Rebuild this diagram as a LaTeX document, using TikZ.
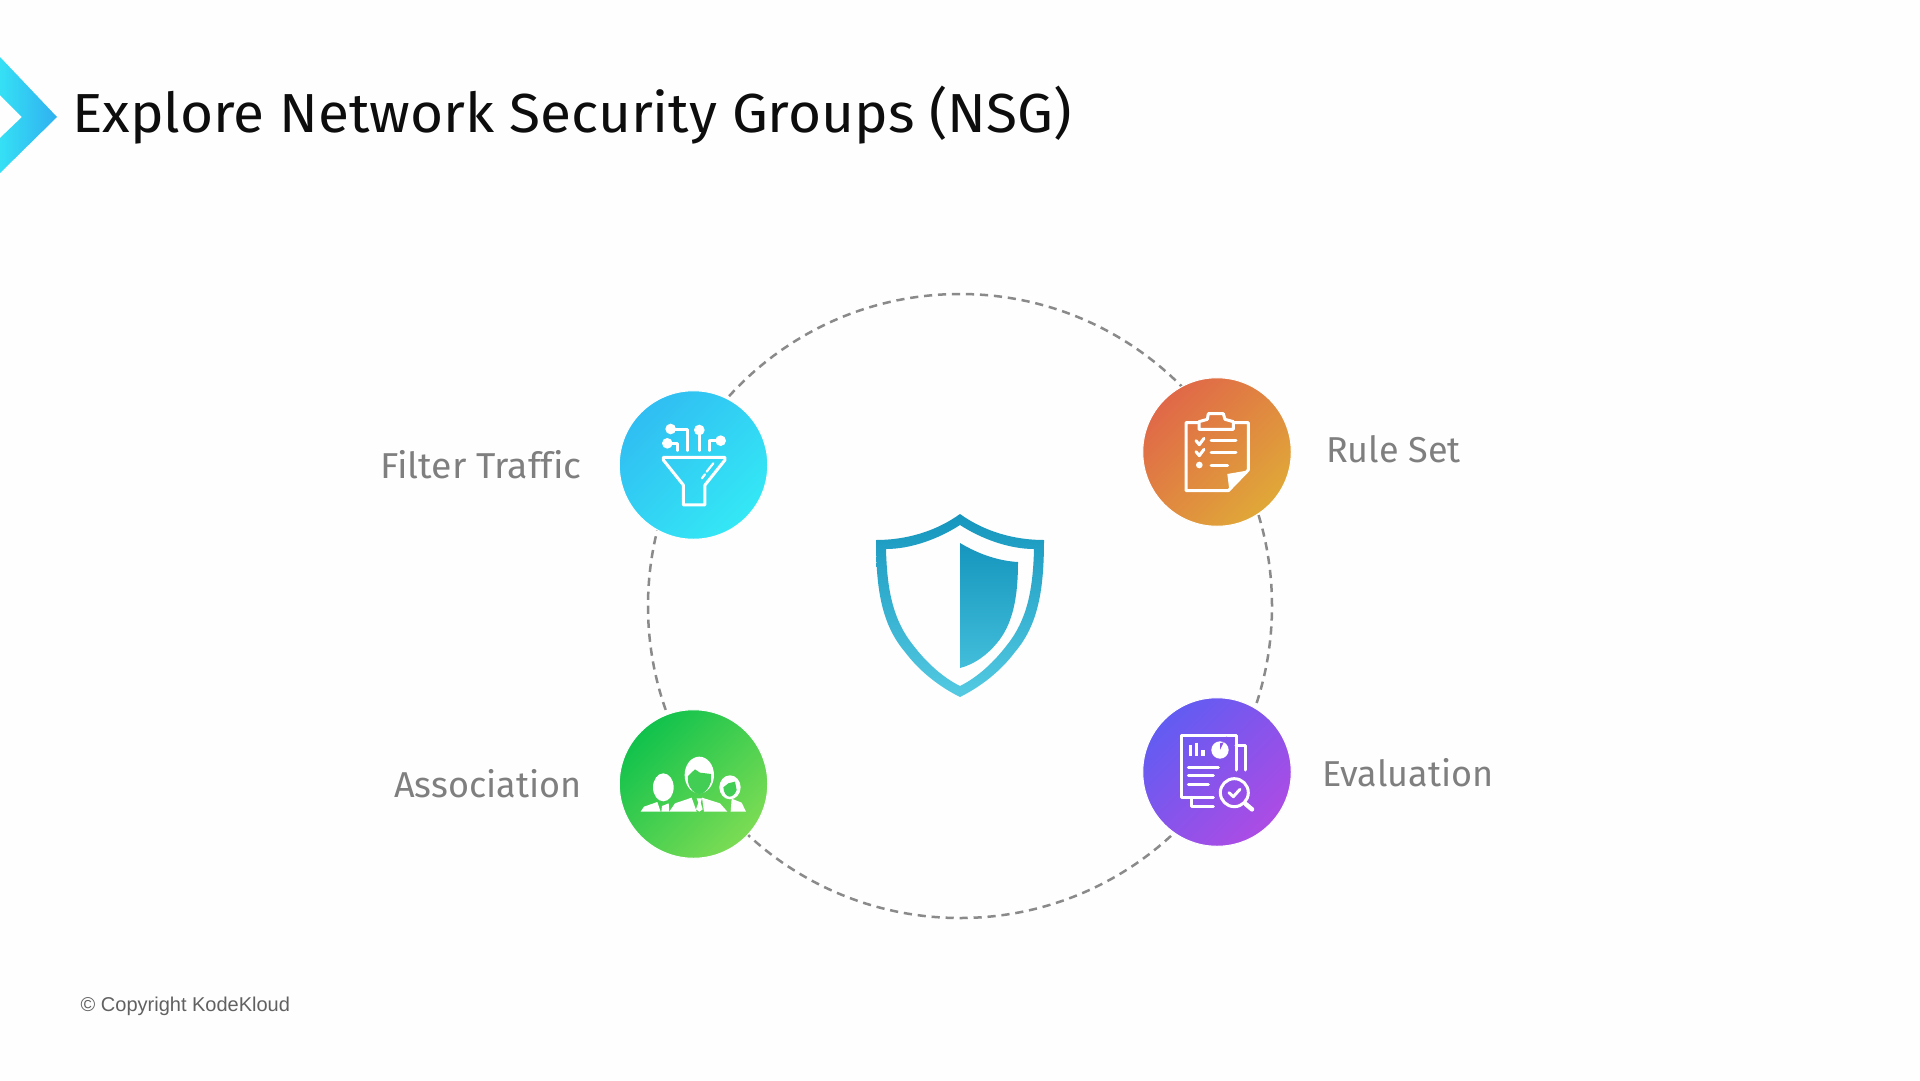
\documentclass[tikz,border=0pt]{standalone}
\usepackage{fontspec}
\setmainfont[Ligatures=NoCommon]{Fira Sans}
\newfontfamily\titlefont[FakeStretch=1.032]{Fira Sans}
\newfontfamily\widelabel[FakeStretch=1.04,Ligatures=NoCommon]{Fira Sans}
\newfontfamily\arialfont{Liberation Sans}
\definecolor{bgc}{HTML}{FEFEFE}
\definecolor{ringc}{HTML}{8A8A8A}
\definecolor{labelc}{HTML}{7F7F7F}
\definecolor{facec}{RGB}{66,206,84}
\definecolor{piec}{RGB}{140,84,234}
\definecolor{chevl}{RGB}{53,224,245}
\definecolor{chevr}{RGB}{48,176,240}
\definecolor{shtop}{RGB}{22,150,190}
\definecolor{shmid}{RGB}{18,158,196}
\definecolor{shbot}{RGB}{84,202,226}
\definecolor{shbotb}{RGB}{66,190,218}
\definecolor{fa}{RGB}{48,190,242}
\definecolor{fb}{RGB}{52,232,245}
\definecolor{ra}{RGB}{224,104,72}
\definecolor{rb}{RGB}{224,168,56}
\definecolor{aa}{RGB}{16,194,76}
\definecolor{ab}{RGB}{124,220,84}
\definecolor{ea}{RGB}{98,92,242}
\definecolor{eb}{RGB}{172,76,228}
\tikzset{
  badge/.style={circle,minimum size=148.5pt,inner sep=0pt,draw=white,line width=1pt},
  lab/.style={text=labelc,font=\fontsize{36}{40}\selectfont,inner sep=0pt},
  icon/.style={draw=white,line width=3pt,line join=round,line cap=round},
  zoomed/.style={x=0.3333pt,y=-0.3333pt}
}
\begin{document}
\begin{tikzpicture}[x=1pt,y=-1pt]
\useasboundingbox (0,0) rectangle (1920,1080);
\fill[bgc] (0,0) rectangle (1920,1080);
% chevron
\shade[left color=chevl,right color=chevr]
  (0,57) -- (57,117) -- (0,173) -- (0,138) -- (22,117) -- (0,95) -- cycle;
\node[anchor=base west,inner sep=0pt,text=black!95,font=\titlefont\fontsize{55}{60}\selectfont] (title) at (72,132) {Explore Network Security Groups (NSG)};
% ring
\node[circle,draw=ringc,line width=2.5pt,dash pattern=on 8.2pt off 5.8pt,minimum size=624pt,inner sep=0pt] (ring) at (960,606) {};
% shield
\shade[top color=shtop,middle color=shmid,bottom color=shbot,even odd rule]
  (960,514) .. controls (935,532) and (905,540) .. (876,540)
  .. controls (876,590) and (882,625) .. (905,652) .. controls (920,672) and (940,687) .. (960,697)
  .. controls (980,687) and (1000,672) .. (1015,652) .. controls (1038,625) and (1044,590) .. (1044,540)
  .. controls (1015,540) and (985,532) .. (960,514) -- cycle
  (960,525) .. controls (940,538) and (912,549) .. (886,549)
  .. controls (887,590) and (893,620) .. (913,645) .. controls (926,662) and (942,677) .. (960,686)
  .. controls (978,677) and (994,662) .. (1007,645) .. controls (1027,620) and (1033,590) .. (1034,549)
  .. controls (1008,549) and (980,538) .. (960,525) -- cycle;
\shade[top color=shtop,middle color=shmid,bottom color=shbotb]
  (960,543) .. controls (980,555) and (1000,561) .. (1018,562)
  .. controls (1018,600) and (1012,625) .. (997,643) .. controls (987,655) and (975,664) .. (960,668) -- cycle;
% badges
\node[badge,left color=fa,right color=fb,shading angle=45] (filter) at (693.5,465) {};
\node[badge,left color=ra,right color=rb,shading angle=45] (rule) at (1217,452) {};
\node[badge,left color=aa,right color=ab,shading angle=45] (assoc) at (693.5,784) {};
\node[badge,left color=ea,right color=eb,shading angle=45] (evalu) at (1217,772) {};
% labels
\node[lab,anchor=base east,font=\widelabel\fontsize{36}{40}\selectfont] (lfilter) at (582,478) {Filter Traffic};
\node[lab,anchor=base west] (lrule) at (1326,462) {Rule Set};
\node[lab,anchor=base east] (lassoc) at (581.5,797) {Association};
\node[lab,anchor=base west] (leval) at (1322,786) {Evaluation};
\node[anchor=base west,inner sep=0pt,text=black!62,font=\arialfont\fontsize{20}{24}\selectfont] (copy) at (80.5,1011) {© Copyright KodeKloud};
% filter icon
\begin{scope}[shift={(600,380)},zoomed]
\draw[icon] (190,232) -- (375,232) -- (375,240) -- (315,315) -- (315,375) -- (250,375) -- (250,315) -- (190,240) -- cycle;
\draw[icon,line width=2.2pt] (340,250) -- (320,275) (315,283) -- (306,295);
\draw[icon] (225,147) -- (262,147) -- (262,212) (298,150) -- (298,212) (350,182) -- (328,182) -- (328,212) (215,190) -- (233,190) -- (233,212);
\fill[white] (212,147) circle (16) (298,150) circle (16) (362,182) circle (16) (202,190) circle (16);
\end{scope}
% clipboard icon
\begin{scope}[shift={(1130,370)},zoomed]
\draw[icon] (207,158) -- (168,158) -- (168,362) -- (295,362) -- (355,300) -- (355,158) -- (310,158);
\draw[icon] (207,178) -- (207,155) -- (232,148) -- (235,131) -- (280,131) -- (285,148) -- (310,155) -- (310,178) -- cycle;
\fill[white] (292,312) -- (350,302) -- (298,360) -- cycle;
\draw[icon] (198,212) -- (208,224) -- (222,205) (198,245) -- (208,257) -- (222,238);
\draw[icon] (243,212) -- (318,212) (243,248) -- (318,248) (243,285) -- (293,285);
\fill[white] (208,285) circle (10);
\end{scope}
% people icon
\begin{scope}[shift={(600,700)},zoomed]
\fill[white] (190,262) ellipse (31 and 42);
\fill[white] (122,335) -- (132,320) -- (172,306) -- (182,335) -- cycle (208,335) -- (206,310) -- (186,318) -- (184,335) -- cycle;
\fill[white] (298,225) ellipse (44 and 55);
\fill[facec] (264,228) -- (285,208) -- (300,218) -- (333,222) -- (333,245) .. controls (325,270) and (310,282) .. (298,282) .. controls (285,282) and (268,268) .. (264,245) -- cycle;
\fill[white] (208,335) -- (225,310) -- (275,293) -- (290,335) -- cycle (306,293) -- (360,310) -- (382,335) -- (312,335) -- cycle;
\fill[white] (290,295) -- (306,295) -- (302,308) -- (308,328) -- (298,335) -- (288,328) -- (295,308) -- cycle;
\fill[white] (390,262) ellipse (32 and 36);
\fill[facec] (370,262) -- (385,250) -- (405,245) -- (410,270) .. controls (405,285) and (395,290) .. (388,290) .. controls (378,288) and (372,280) .. (370,262) -- cycle;
\fill[white] (392,335) -- (395,296) -- (425,308) -- (438,335) -- cycle;
\end{scope}
% evaluation icon
\begin{scope}[shift={(1130,690)},zoomed]
\draw[icon] (318,240) -- (318,135) -- (155,135) -- (155,322) -- (250,322);
\draw[icon] (318,165) -- (345,165) -- (345,240) (185,322) -- (185,350) -- (250,350);
\draw[icon,line width=3.3pt,line cap=butt] (182,165) -- (182,197) (200,158) -- (200,197) (219,180) -- (219,197);
\fill[white] (270,180) circle (26);
\fill[piec] (270,180) -- (270,160) arc[start angle=90,end angle=-5,radius=20] -- cycle;
\draw[icon] (175,232) -- (265,232) (175,257) -- (250,257) (175,283) -- (235,283);
\draw[icon] (313,308) circle (42);
\draw[icon,line width=4.5pt] (347,342) -- (366,358);
\draw[icon] (297,308) -- (310,320) -- (330,298);
\end{scope}
\end{tikzpicture}
\end{document}
